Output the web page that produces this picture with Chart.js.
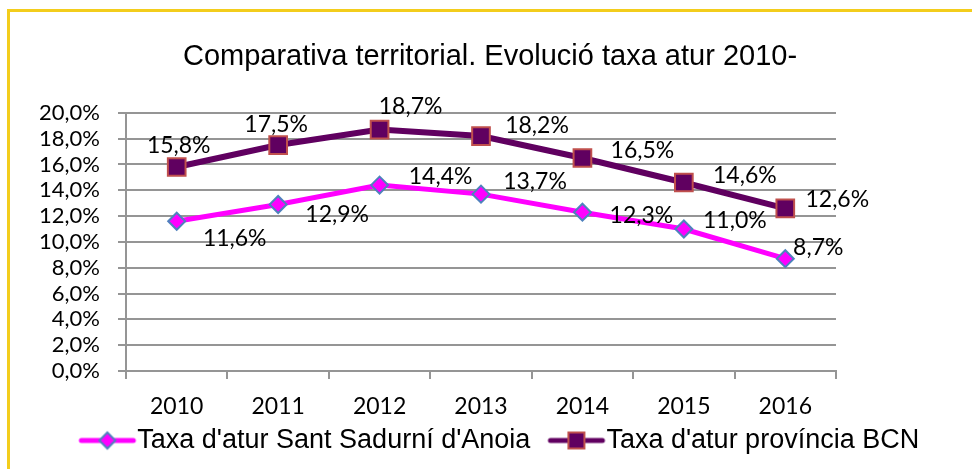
<!DOCTYPE html>
<html>
<head>
<meta charset="utf-8">
<script src="https://cdn.jsdelivr.net/npm/chart.js@4/dist/chart.umd.min.js"></script>
<style>
  html, body { margin: 0; padding: 0; background: #fff; }
  #wrap { position: relative; width: 972px; height: 469px; overflow: hidden; }
  #frame { position: absolute; left: 7px; top: 9px; width: 1000px; height: 500px;
           border-top: 3px solid #F3CD1C; border-left: 3px solid #F3CD1C; }
  #chart { position: absolute; left: 0; top: 0; }
</style>
</head>
<body>
<div id="wrap">
  <div id="frame"></div>
  <canvas id="chart" width="972" height="469"></canvas>
</div>
<script>
// dades
var years = ['2010', '2011', '2012', '2013', '2014', '2015', '2016'];
var santSadurni = [11.6, 12.9, 14.4, 13.7, 12.3, 11.0, 8.7];
var provinciaBcn = [15.8, 17.5, 18.7, 18.2, 16.5, 14.6, 12.6];
var seriesNames = ["Taxa d'atur Sant Sadurní d'Anoia", "Taxa d'atur província BCN"];
var yMin = 0, yMax = 20, yStep = 2;

// on va cada etiqueta respecte del seu punt (px)
var labelShift = [
  [[58, 17], [59, 10], [61, -9], [54, -13], [59, 3], [51, -9], [33, -12]],
  [[2, -22], [-2, -21], [31, -24], [56, -11], [60, -8], [61, -8], [52, -9]]
];

var PINK = '#FF00FF', PURPLE = '#600060';

function pct(v) {
  return v.toFixed(1).replace('.', ',') + '%';
}

function legendIcon(color, marker) {
  var c = document.createElement('canvas');
  c.width = 60; c.height = 24;
  var g = c.getContext('2d');
  g.strokeStyle = color; g.lineWidth = 5; g.lineCap = 'round';
  g.beginPath(); g.moveTo(4, 12); g.lineTo(56, 12); g.stroke();
  g.lineWidth = 2;
  g.beginPath();
  if (marker === 'diamond') {
    g.moveTo(30, 4); g.lineTo(38, 12); g.lineTo(30, 20); g.lineTo(22, 12); g.closePath();
    g.fillStyle = PINK; g.strokeStyle = '#4F81BD';
  } else {
    g.rect(22, 4, 16, 16);
    g.fillStyle = PURPLE; g.strokeStyle = '#C0504D';
  }
  g.fill(); g.stroke();
  return c;
}
var icons = [legendIcon(PINK, 'diamond'), legendIcon(PURPLE, 'square')];

var valueLabels = {
  id: 'valueLabels',
  afterDatasetsDraw: function(chart) {
    var ctx = chart.ctx;
    ctx.save();
    ctx.font = '23px Lato';
    ctx.fillStyle = '#000';
    ctx.textAlign = 'center';
    ctx.textBaseline = 'alphabetic';
    chart.data.datasets.forEach(function(ds, i) {
      chart.getDatasetMeta(i).data.forEach(function(pt, j) {
        var s = labelShift[i][j];
        ctx.fillText(pct(ds.data[j]), pt.x + s[0], pt.y + s[1] + 8);
      });
    });
    ctx.restore();
  }
};

var shiftLegend = {
  id: 'shiftLegend',
  afterLayout: function(chart) {
    chart.legend.left += 15;
    chart.legend.right += 15;
  }
};

new Chart(document.getElementById('chart'), {
  type: 'line',
  data: {
    labels: years,
    datasets: [{
      label: seriesNames[0],
      data: santSadurni,
      borderColor: PINK,
      borderWidth: 5,
      pointStyle: 'rectRot',
      pointRadius: 8.5,
      pointHoverRadius: 8.5,
      pointBackgroundColor: PINK,
      pointBorderColor: '#4F81BD',
      pointBorderWidth: 2,
      tension: 0
    }, {
      label: seriesNames[1],
      data: provinciaBcn,
      borderColor: PURPLE,
      borderWidth: 6,
      pointStyle: 'rect',
      pointRadius: 12.5,
      pointHoverRadius: 12.5,
      pointBackgroundColor: PURPLE,
      pointBorderColor: '#C0504D',
      pointBorderWidth: 2,
      tension: 0
    }]
  },
  options: {
    responsive: false,
    animation: false,
    layout: {
      padding: { left: 8, right: 0, top: 0, bottom: 5 }
    },
    plugins: {
      title: {
        display: true,
        text: 'Comparativa territorial. Evolució taxa atur 2010-',
        color: '#000',
        font: { family: 'Liberation Sans', size: 29, weight: 'normal' },
        padding: { top: 40, bottom: 38 }
      },
      legend: {
        position: 'bottom',
        labels: {
          usePointStyle: true,
          pointStyleWidth: 33,
          padding: 7,
          color: '#000',
          font: { family: 'Liberation Sans', size: 27 },
          generateLabels: function(chart) {
            return chart.data.datasets.map(function(ds, i) {
              return { text: i === 0 ? ds.label + '   ' : ds.label, pointStyle: icons[i],
                       fillStyle: ds.borderColor, strokeStyle: ds.borderColor,
                       lineWidth: 0, hidden: false, datasetIndex: i };
            });
          }
        }
      },
      tooltip: { enabled: false }
    },
    scales: {
      x: {
        offset: true,
        grid: { offset: true, drawOnChartArea: false, drawTicks: true, tickLength: 8,
                color: '#959595', lineWidth: 2 },
        border: { color: '#959595', width: 2 },
        ticks: { color: '#000', padding: 14, font: { family: 'Lato', size: 23 } },
        afterFit: function(s) { s.height = 49; }
      },
      y: {
        min: yMin,
        max: yMax,
        grid: { color: '#959595', lineWidth: 2, tickLength: 8 },
        border: { color: '#959595', width: 2 },
        ticks: { stepSize: yStep, autoSkip: false, color: '#000', padding: 18,
                 font: { family: 'Lato', size: 22 },
                 callback: function(v) { return pct(v); } },
        afterFit: function(s) { s.width = 118; }
      },
      yRight: {
        position: 'right',
        grid: { display: false },
        border: { display: false },
        ticks: { display: false },
        afterFit: function(s) { s.width = 136; }
      }
    }
  },
  plugins: [valueLabels, shiftLegend]
});
</script>
</body>
</html>
